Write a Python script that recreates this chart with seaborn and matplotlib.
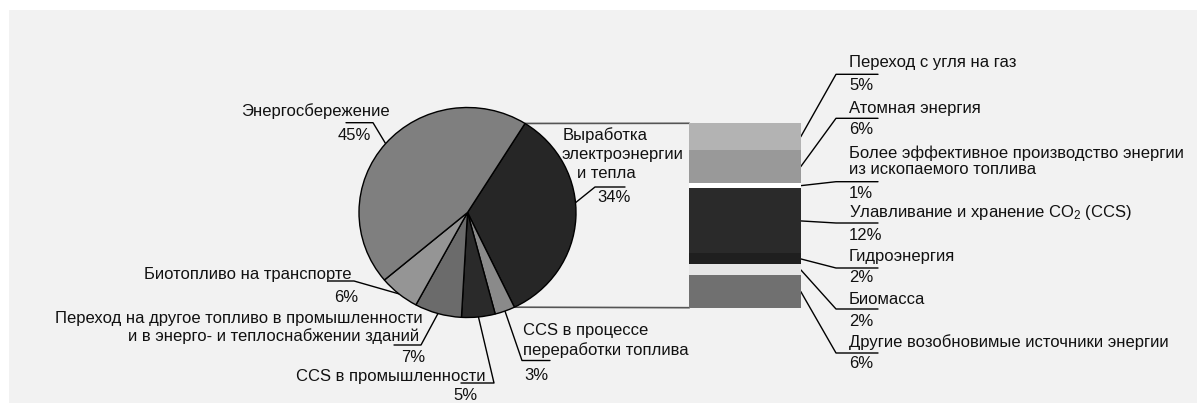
import numpy as np
import pandas as pd
import matplotlib
matplotlib.use("Agg")
import matplotlib.pyplot as plt
from matplotlib.patches import Rectangle
import seaborn as sns

# Reduction of emissions by measure, % of total
pie_names = [
    "Выработка\nэлектроэнергии\nи тепла",
    "CCS в процессе\nпереработки топлива",
    "CCS в промышленности",
    "Переход на другое топливо в промышленности\nи в энерго- и теплоснабжении зданий",
    "Биотопливо на транспорте",
    "Энергосбережение",
]
pie_values = [34, 3, 5, 7, 6, 45]
pie_colors = ["#262626", "#8a8a8a", "#2a2a2a", "#6b6b6b", "#959595", "#7f7f7f"]

# Breakdown of the power and heat generation share
bar_names = [
    "Переход с угля на газ",
    "Атомная энергия",
    "Более эффективное производство энергии\nиз ископаемого топлива",
    "Улавливание и хранение CO$_\\mathregular{2}$ (CCS)",
    "Гидроэнергия",
    "Биомасса",
    "Другие возобновимые источники энергии",
]
bar_values = [5, 6, 1, 12, 2, 2, 6]
bar_colors = ["#b3b3b3", "#999999", "#ffffff", "#2a2a2a", "#1f1f1f", "#e6e6e6", "#707070"]

sns.set_theme(style="white")
plt.rcParams["font.family"] = ["Liberation Sans", "DejaVu Sans"]
plt.rcParams["mathtext.fontset"] = "custom"
plt.rcParams["mathtext.rm"] = "Liberation Sans"
plt.rcParams["mathtext.it"] = "Liberation Sans:italic"
plt.rcParams["mathtext.bf"] = "Liberation Sans:bold"

FS = 12
INK = "#111111"
W, H = 1197, 403

fig = plt.figure(figsize=(W / 100, H / 100), dpi=100, facecolor="white")

# full-figure canvas in pixel units (y grows downwards)
main = fig.add_axes([0, 0, 1, 1])
main.set_xlim(0, W)
main.set_ylim(H, 0)
main.axis("off")
main.add_patch(Rectangle((9, 10), W - 9, H - 10, facecolor="#f2f2f2",
                         edgecolor="none", zorder=0))

# ---- pie ----
cx, cy, rx, ry, pad = 467.5, 212.5, 108.5, 105.0, 1.1
pie_ax = fig.add_axes([(cx - rx * pad) / W, (H - cy - ry * pad) / H,
                       2 * rx * pad / W, 2 * ry * pad / H])
wedges, _ = pie_ax.pie(pie_values, colors=pie_colors, startangle=58,
                       counterclock=False, radius=1,
                       wedgeprops=dict(edgecolor="black", linewidth=1.0))
pie_ax.set_aspect("auto")
pie_ax.set_xlim(-pad, pad)
pie_ax.set_ylim(-pad, pad)
pie_ax.axis("off")

# ---- stacked bar for the power sector share ----
total = sum(bar_values)
bar_ax = fig.add_axes([689.3 / W, (H - 307.7) / H, (800.7 - 689.3) / W, (307.7 - 123.3) / H])
cum = np.cumsum(bar_values)
seg = pd.DataFrame({"name": bar_names, "value": bar_values, "cum": cum, "color": bar_colors})
for _, row in seg.iloc[::-1].iterrows():
    sns.barplot(x=["power"], y=[row["cum"]], color=row["color"], width=1,
                saturation=1, linewidth=0, errorbar=None, ax=bar_ax)
bar_ax.set_xlim(-0.5, 0.5)
bar_ax.set_ylim(total, 0)
bar_ax.axis("off")


def to_main(ax, pts):
    return main.transData.inverted().transform(ax.transData.transform(pts))


def pie_point(w, frac=0.5):
    ang = np.deg2rad(w.theta1 + frac * (w.theta2 - w.theta1))
    return to_main(pie_ax, [(w.r * np.cos(ang), w.r * np.sin(ang))])[0]


# connectors from the power slice to the bar
el = wedges[0]
top_pie = pie_point(el, 1.0)
bot_pie = pie_point(el, 0.0)
bar_top = to_main(bar_ax, [(-0.5, 0)])[0]
bar_bot = to_main(bar_ax, [(-0.5, total)])[0]
main.plot([top_pie[0], bar_top[0]], [top_pie[1], bar_top[1]], color="#555555", lw=1.2, zorder=1)
main.plot([bot_pie[0], bar_bot[0]], [bot_pie[1], bar_bot[1]], color="#555555", lw=1.2, zorder=1)

# label placement for pie slices (pixel units)
pie_layout = [
    dict(lines=[(563, 135), (562, 155), (577, 173)], ha="left", pct=(597, 197),
         elbow=[(595, 187), (625, 187)], frac=0.57),
    dict(lines=[(523, 330), (523, 350)], ha="left", pct=(524, 376),
         elbow=[(522, 360.5), (550, 360.5)], frac=0.5),
    dict(lines=[(485, 377)], ha="right", pct=(478, 395),
         elbow=[(494, 383), (461, 383)], frac=0.5),
    dict(lines=[(423, 318), (419, 336)], ha="right", pct=(425, 357),
         elbow=[(421, 345), (394, 345)], frac=0.5),
    dict(lines=[(352, 274)], ha="right", pct=(358, 297),
         elbow=[(354, 281), (329, 281)], frac=0.5),
    dict(lines=[(390, 111)], ha="right", pct=(371, 136),
         elbow=[(373, 122.7), (346, 122.7)], frac=0.5),
]

for w, name, val, lay in zip(wedges, pie_names, pie_values, pie_layout):
    for (x, y), line in zip(lay["lines"], name.split("\n")):
        main.text(x, y, line, ha=lay["ha"], va="center", fontsize=FS, color=INK)
    px, py = lay["pct"]
    main.text(px, py, f"{val}%", ha=lay["ha"], va="center", fontsize=FS, color=INK)
    a = pie_point(w, lay["frac"])
    xs = [a[0]] + [p[0] for p in lay["elbow"]]
    ys = [a[1]] + [p[1] for p in lay["elbow"]]
    main.plot(xs, ys, color="black", lw=1.0, zorder=2)

# label placement for the bar segments (pixel units)
bar_layout = [
    dict(lines=[63], pct=86, under=74.3),
    dict(lines=[108], pct=129, under=118.3),
    dict(lines=[153, 170], pct=193, under=181.7),
    dict(lines=[213], pct=235, under=223),
    dict(lines=[257], pct=278, under=268),
    dict(lines=[299], pct=322, under=309),
    dict(lines=[342], pct=363, under=353),
]
tx = 849
for (_, row), lay in zip(seg.iterrows(), bar_layout):
    for y, line in zip(lay["lines"], row["name"].split("\n")):
        main.text(tx, y, line, ha="left", va="center", fontsize=FS, color=INK)
    main.text(tx, lay["pct"], f"{row['value']}%", ha="left", va="center", fontsize=FS, color=INK)
    a = to_main(bar_ax, [(0.5, row["cum"] - row["value"] / 2)])[0]
    main.plot([a[0], 836, 878], [a[1], lay["under"], lay["under"]], color="black", lw=1.0, zorder=2)

fig.savefig("out.png", dpi=100, facecolor="white")
